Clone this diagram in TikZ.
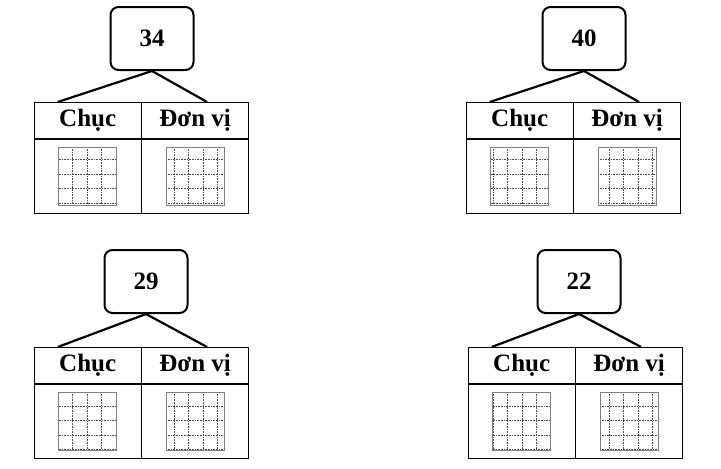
\documentclass[tikz,border=0pt]{standalone}
\usepackage{fontspec}
\setmainfont{Liberation Serif}
\usetikzlibrary{positioning}

\tikzset{numbox/.style = {draw,line width=2pt,rounded corners=8pt,minimum width=83pt,minimum height=63pt,font=\fontsize{25}{28}\bfseries}}
\tikzset{cell/.style = {draw,line width=0.9pt,minimum width=106.5pt,minimum height=36pt,inner sep=0pt,font=\fontsize{25}{28}\bfseries}}
\tikzset{cellbox/.style = {draw,line width=0.9pt,minimum width=106.5pt,minimum height=74pt}}
\tikzset{leg/.style = {line width=2.2pt}}

% one block: #1 name, #2 table left, #3 table top, #4 number, #5 box centre x, #6 box top
\newcommand{\placeblock}[6]{
  \node[cell,anchor=north west] (#1c) at (#2,#3) {Chục};
  \node[cell,right=0pt of #1c] (#1d) {Đơn vị};
  \node[cellbox,below=0pt of #1c] (#1cb) {};
  \node[cellbox,below=0pt of #1d] (#1db) {};
  \foreach \g in {#1cb,#1db} {
    \draw[black!70,densely dotted,line width=0.6pt] ([xshift=-29pt,yshift=-29pt]\g.center) grid[step=14.5pt] ([xshift=29pt,yshift=29pt]\g.center);
    \draw[gray,line width=1pt] ([xshift=-29pt,yshift=-29pt]\g.center) rectangle ([xshift=29pt,yshift=29pt]\g.center);
  }
  \node[numbox,anchor=north] (#1n) at (#5,#6) {#4};
  \draw[leg] ([xshift=-30pt]#1c.north) -- (#1n.south) -- ([xshift=12pt]#1d.north);
}

\begin{document}
\begin{tikzpicture}[x=1pt,y=-1pt]
  \useasboundingbox (0,0) rectangle (721,469);
  \placeblock{a}{34}{102}{34}{152}{6}
  \placeblock{b}{466}{102}{40}{584}{6}
  \placeblock{c}{34}{347}{29}{146}{249}
  \placeblock{d}{468}{347}{22}{579}{249}
\end{tikzpicture}
\end{document}
